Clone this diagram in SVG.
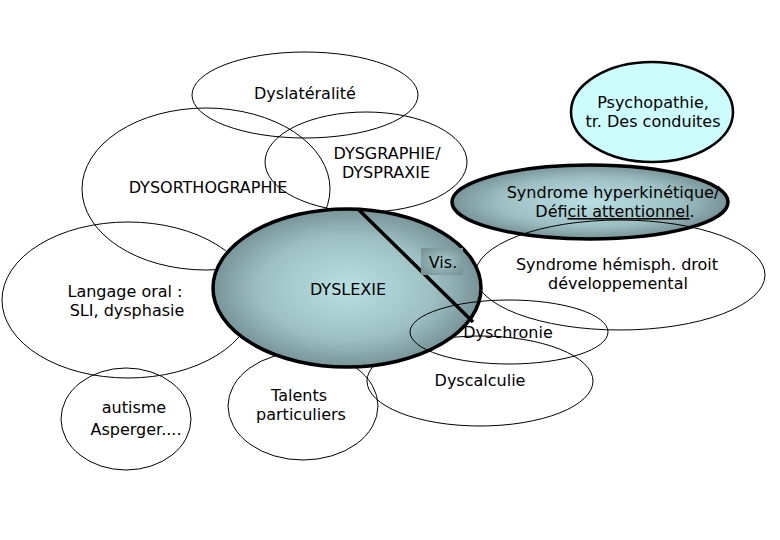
<svg xmlns="http://www.w3.org/2000/svg" width="780" height="540" viewBox="0 0 780 540">
<style>
.o{fill:none;stroke:#000;stroke-width:1}
.s{stroke:#000;stroke-width:3.5}
text{font-family:"DejaVu Sans","Verdana",sans-serif;font-size:16px;fill:#000;text-anchor:middle}
</style>
<defs>
<radialGradient id="g" cx="50%" cy="50%" r="55%">
<stop offset="0" stop-color="#b9e0e3"/>
<stop offset="0.6" stop-color="#9dbfc2"/>
<stop offset="1" stop-color="#6d878b"/>
</radialGradient>
<radialGradient id="gb" cx="50%" cy="50%" r="60%">
<stop offset="0" stop-color="#a8cacc"/>
<stop offset="1" stop-color="#7a9598"/>
</radialGradient>
</defs>
<rect width="780" height="540" fill="#fff"/>
<g id="langage"><ellipse class="o" cx="128" cy="300" rx="126" ry="78"/><text x="125" y="297">Langage oral :</text><text x="127" y="316">SLI, dysphasie</text></g>
<g id="dysorthographie"><ellipse class="o" cx="206" cy="189" rx="124" ry="81"/><text x="208" y="193">DYSORTHOGRAPHIE</text></g>
<g id="dyslateralite"><ellipse class="o" cx="305" cy="95" rx="113" ry="43"/><text x="305" y="99">Dyslatéralité</text></g>
<g id="autisme"><ellipse class="o" cx="126" cy="419" rx="65" ry="51"/><text x="134" y="413">autisme</text><text x="136" y="435">Asperger....</text></g>
<g id="talents"><ellipse class="o" cx="303" cy="406" rx="75" ry="54"/><text x="299" y="401">Talents</text><text x="301" y="420">particuliers</text></g>
<g id="dyscalculie"><ellipse class="o" cx="480" cy="381" rx="113" ry="45"/><text x="480" y="386">Dyscalculie</text></g>
<g id="hyperkinetique"><ellipse class="s" fill="url(#g)" cx="590" cy="202" rx="138" ry="37"/><text x="613" y="198">Syndrome hyperkinétique/</text><text x="615" y="217">Défi<tspan text-decoration="underline">cit attentionnel</tspan>.</text></g>
<g id="psychopathie"><ellipse fill="#ccfcfc" stroke="#000" stroke-width="2.5" cx="652" cy="112" rx="81" ry="50"/><text x="653" y="108">Psychopathie,</text><text x="653" y="127">tr. Des conduites</text></g>
<g id="dysgraphie"><ellipse class="o" cx="366" cy="162" rx="101" ry="50"/><text x="387" y="159">DYSGRAPHIE/</text><text x="386" y="178">DYSPRAXIE</text></g>
<g id="hemisph"><ellipse class="o" cx="620" cy="275" rx="145" ry="55"/><text x="617" y="270">Syndrome hémisph. droit</text><text x="618" y="289">développemental</text></g>
<g id="dyslexie"><ellipse class="s" fill="url(#g)" cx="347" cy="288" rx="134" ry="79"/><text x="348" y="295">DYSLEXIE</text></g>
<g id="connectors"><line x1="359" y1="210" x2="473" y2="322" stroke="#000" stroke-width="3.5"/></g>
<g id="vis"><rect x="421" y="248" width="42" height="27" fill="url(#gb)"/><text x="443" y="268">Vis.</text></g>
<g id="dyschronie"><ellipse class="o" cx="509" cy="332" rx="99" ry="32"/><text x="508" y="338">Dyschronie</text></g>
</svg>
